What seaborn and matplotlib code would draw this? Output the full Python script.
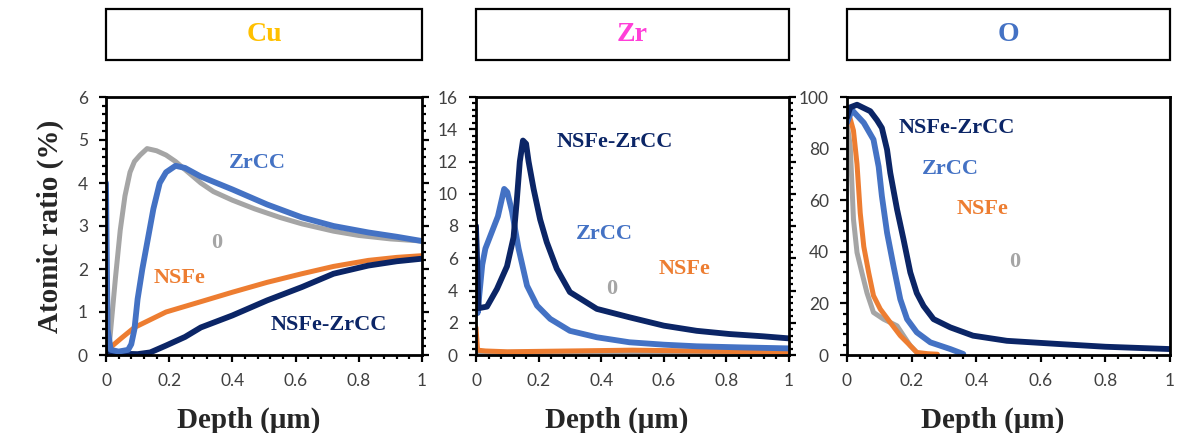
import matplotlib
matplotlib.use("Agg")
import matplotlib.pyplot as plt
from matplotlib import font_manager
from matplotlib.ticker import MultipleLocator, AutoMinorLocator
from matplotlib.patches import Rectangle
import seaborn as sns

# ---------------- data ----------------
panels = ["Cu", "Zr", "O"]
panel_colors = ["#FFC000", "#FF3FD8", "#4472C4"]
series_colors = {"0": "#A5A5A5", "NSFe": "#ED7D31", "ZrCC": "#4472C4", "NSFe-ZrCC": "#0B2566"}

# Cu panel
cu_0_depth = [0, 0.01, 0.03, 0.045, 0.06, 0.076, 0.09, 0.108, 0.13, 0.16, 0.19, 0.22, 0.26, 0.30, 0.34, 0.40, 0.47, 0.55, 0.62, 0.72, 0.80, 0.90, 1.0]
cu_0_val = [0.3, 0.2, 1.8, 2.9, 3.7, 4.25, 4.5, 4.65, 4.8, 4.75, 4.65, 4.5, 4.25, 4.0, 3.8, 3.6, 3.4, 3.2, 3.05, 2.88, 2.78, 2.7, 2.65]
cu_zrcc_depth = [0, 0.005, 0.015, 0.04, 0.07, 0.08, 0.09, 0.10, 0.115, 0.13, 0.15, 0.17, 0.19, 0.22, 0.25, 0.30, 0.40, 0.51, 0.62, 0.72, 0.83, 0.92, 1.0]
cu_zrcc_val = [4.0, 0.6, 0.12, 0.08, 0.12, 0.25, 0.6, 1.3, 2.0, 2.6, 3.4, 4.0, 4.25, 4.4, 4.35, 4.15, 3.85, 3.5, 3.2, 3.0, 2.85, 2.75, 2.65]
cu_nsfe_depth = [0, 0.01, 0.05, 0.09, 0.19, 0.30, 0.40, 0.51, 0.62, 0.72, 0.83, 0.92, 1.0]
cu_nsfe_val = [0.1, 0.15, 0.4, 0.64, 1.0, 1.24, 1.46, 1.69, 1.89, 2.06, 2.2, 2.27, 2.31]
cu_mix_depth = [0, 0.01, 0.05, 0.10, 0.14, 0.19, 0.25, 0.30, 0.40, 0.51, 0.62, 0.72, 0.83, 0.92, 1.0]
cu_mix_val = [0.3, 0.05, 0.03, 0.02, 0.06, 0.22, 0.42, 0.64, 0.92, 1.27, 1.58, 1.89, 2.08, 2.18, 2.24]

# Zr panel
zr_0_depth = [0, 0.5, 1.0]
zr_0_val = [0.15, 0.2, 0.15]
zr_nsfe_depth = [0, 0.005, 0.03, 0.1, 0.3, 0.5, 0.7, 0.9, 1.0]
zr_nsfe_val = [1.7, 0.3, 0.25, 0.2, 0.25, 0.3, 0.25, 0.2, 0.2]
zr_zrcc_depth = [0, 0.005, 0.02, 0.03, 0.05, 0.07, 0.09, 0.10, 0.115, 0.136, 0.163, 0.195, 0.237, 0.30, 0.386, 0.49, 0.60, 0.705, 0.85, 1.0]
zr_zrcc_val = [7.5, 2.6, 5.6, 6.6, 7.6, 8.6, 10.3, 10.1, 8.9, 6.6, 4.3, 3.06, 2.24, 1.5, 1.1, 0.79, 0.64, 0.54, 0.47, 0.41]
zr_mix_depth = [0, 0.008, 0.035, 0.067, 0.099, 0.12, 0.13, 0.14, 0.15, 0.16, 0.168, 0.184, 0.205, 0.226, 0.258, 0.30, 0.386, 0.49, 0.60, 0.705, 0.81, 0.917, 1.0]
zr_mix_val = [8.0, 2.9, 3.0, 4.1, 5.5, 7.3, 9.5, 12.0, 13.3, 13.1, 12.0, 10.3, 8.4, 7.0, 5.35, 3.9, 2.86, 2.34, 1.82, 1.5, 1.3, 1.16, 1.03]

# O panel
o_0_depth = [0, 0.01, 0.02, 0.031, 0.046, 0.062, 0.082, 0.113, 0.155, 0.175, 0.196, 0.22]
o_0_val = [90, 81, 52.6, 39.7, 32, 24, 16.5, 13.9, 11.3, 7.5, 3.6, 0.5]
o_nsfe_depth = [0.005, 0.02, 0.031, 0.041, 0.052, 0.067, 0.082, 0.103, 0.134, 0.165, 0.196, 0.216, 0.25, 0.28]
o_nsfe_val = [93.8, 87, 74, 55, 42, 32, 23, 17.8, 12.6, 7.5, 3.6, 1.0, 0.5, 0.3]
o_zrcc_depth = [0, 0.015, 0.052, 0.082, 0.098, 0.108, 0.124, 0.144, 0.165, 0.186, 0.216, 0.258, 0.32, 0.36]
o_zrcc_val = [90, 95, 90, 83.5, 73, 61.6, 47.4, 34.5, 21.6, 13.9, 8.8, 4.9, 2.3, 0.4]
o_mix_depth = [0, 0.01, 0.031, 0.072, 0.093, 0.108, 0.124, 0.134, 0.155, 0.175, 0.196, 0.216, 0.237, 0.268, 0.32, 0.39, 0.495, 0.65, 0.80, 1.0]
o_mix_val = [92, 96, 97, 94.5, 91, 88, 79.6, 70.6, 56.4, 44.8, 32, 24, 19, 13.9, 10.7, 7.5, 5.5, 4.3, 3.2, 2.3]

y_max = [6, 16, 100]
y_step = [1, 2, 20]
x_ticks = [0, 0.2, 0.4, 0.6, 0.8, 1]
x_tick_labels = ["0", "0.2", "0.4", "0.6", "0.8", "1"]

# inline label positions (data coords) per panel
label_pos = [
    {"ZrCC": (0.48, 4.47), "0": (0.35, 2.6), "NSFe": (0.234, 1.79), "NSFe-ZrCC": (0.706, 0.70)},
    {"NSFe-ZrCC": (0.444, 13.2), "ZrCC": (0.41, 7.5), "NSFe": (0.667, 5.34), "0": (0.435, 4.1)},
    {"NSFe-ZrCC": (0.341, 88), "ZrCC": (0.32, 72), "NSFe": (0.42, 56.4), "0": (0.52, 36)},
]

data = {
    0: {"0": (cu_0_depth, cu_0_val), "NSFe": (cu_nsfe_depth, cu_nsfe_val),
        "NSFe-ZrCC": (cu_mix_depth, cu_mix_val), "ZrCC": (cu_zrcc_depth, cu_zrcc_val)},
    1: {"0": (zr_0_depth, zr_0_val), "NSFe": (zr_nsfe_depth, zr_nsfe_val),
        "ZrCC": (zr_zrcc_depth, zr_zrcc_val), "NSFe-ZrCC": (zr_mix_depth, zr_mix_val)},
    2: {"0": (o_0_depth, o_0_val), "NSFe": (o_nsfe_depth, o_nsfe_val),
        "ZrCC": (o_zrcc_depth, o_zrcc_val), "NSFe-ZrCC": (o_mix_depth, o_mix_val)},
}

# ---------------- style ----------------
sns.set_style("white")
available = {f.name for f in font_manager.fontManager.ttflist}
tick_font = "Lato" if "Lato" in available else "Open Sans"
serif = "Liberation Serif"
plt.rcParams["font.family"] = [tick_font, "DejaVu Sans"]

W, H = 1178, 433
fig = plt.figure(figsize=(W / 100, H / 100), dpi=100)

ax_px = [(106, 422), (476, 789), (847, 1170)]
y_top_px, y_bot_px = 97, 355

for i in range(3):
    x0, x1 = ax_px[i]
    ax = fig.add_axes([x0 / W, (H - y_bot_px) / H, (x1 - x0) / W, (y_bot_px - y_top_px) / H])
    for name, (d, v) in data[i].items():
        lw = 4.2 if name in ("NSFe-ZrCC", "ZrCC") else 3.6
        sns.lineplot(x=d, y=v, ax=ax, color=series_colors[name], lw=lw,
                     estimator=None, sort=False, legend=False)
    ax.set_xlim(0, 1)
    ax.set_ylim(0, y_max[i])
    ax.set_xticks(x_ticks)
    ax.set_xticklabels(x_tick_labels)
    ax.yaxis.set_major_locator(MultipleLocator(y_step[i]))
    ax.xaxis.set_minor_locator(AutoMinorLocator(5))
    ax.yaxis.set_minor_locator(AutoMinorLocator(5))
    right = i < 2
    ax.tick_params(which="both", direction="out", bottom=True, left=True, right=right,
                   top=False, labelright=False, color="black", width=1.6)
    ax.tick_params(which="major", length=5, pad=8, labelsize=12.5, labelcolor="#404040")
    ax.tick_params(which="minor", length=3)
    for s in ax.spines.values():
        s.set_color("black")
        s.set_linewidth(2.0)
        s.set_visible(True)
    ax.set_xlabel("Depth (\u03bcm)", fontsize=21, fontweight="bold", family=serif)
    ax.xaxis.set_label_coords(0.45, -0.2)
    if i == 0:
        ax.set_ylabel("Atomic ratio (%)", fontsize=21, fontweight="bold", family=serif, labelpad=10)
    else:
        ax.set_ylabel("")
    for name, (lx, ly) in label_pos[i].items():
        ax.text(lx, ly, name, color=series_colors[name], fontsize=16, fontweight="bold",
                family=serif, ha="center", va="center")
    # title box
    bx0, bx1 = x0 / W, x1 / W
    by0, by1 = (H - 60) / H, (H - 9) / H
    fig.patches.append(Rectangle((bx0, by0), bx1 - bx0, by1 - by0, transform=fig.transFigure,
                                 fill=False, edgecolor="black", lw=1.6))
    fig.text((bx0 + bx1) / 2, (by0 + by1) / 2, panels[i], color=panel_colors[i], fontsize=20,
             fontweight="bold", family=serif, ha="center", va="center")

fig.savefig("out.png", dpi=100)
